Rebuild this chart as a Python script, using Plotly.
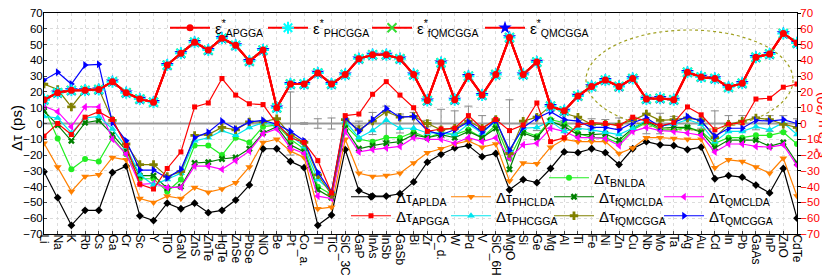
import plotly.graph_objects as go

categories = ["Li","Na","K","Rb","Cs","Ga","Cr","Sc","Y","TiO","GaN","ZnS","ZnTe","HgTe","ZnSe","PbSe","NiO","Be","Pt","Co_a.",
              "Tl","TiC","SiC_3C","GaP","InAs","InSb","GaSb","Bi","Zr","C_d.","W","Pd","V","SiC_6H","MgO","Si","Ge","Mg","Al","Ti",
              "Fe","Ni","Zn","Cu","Nb","Mo","Ta","Ag","Au","Cd","In","Pb","GaAs","InP","ZnO","CdTe"]

# epsilon* (a.u./30), right axis
eps_APGGA = [15,19.5,21,21,21.5,26.5,19.5,15.5,13.5,37,44.5,51.5,46.5,54,49.5,39.5,46.5,10,25,25,
             32,25,31,41,43.5,43.5,41,31,14.5,38.5,15,30,18,31,54.5,31,39,11,8,17.5,
             23.5,27.5,23.5,28.5,15.5,16,15,32.5,29.5,28.5,23,25.5,42,44,57,51]
eps_PHCGGA = [15,19.5,21,21,21.5,26.5,19.5,15.5,13.5,37,44.5,51.5,46.5,54,49.5,39.5,46.5,10,25,25,
              32,25,31,41,43.5,43.5,41,31,14.5,38.5,15,30,18,31,54.5,31,39,11,8,17.5,
              23.5,27.5,23.5,28.5,15.5,16,15,32.5,29.5,28.5,23,25.5,42,44,57,51]
eps_fQMCGGA = [15,19.5,21,21,21.5,26.5,19.5,15.5,13.5,37,44.5,51.5,46.5,54,49.5,39.5,46.5,10,25,25,
               32,25,31,41,43.5,43.5,41,31,14.5,38.5,15,30,18,31,54.5,31,39,11,8,17.5,
               23.5,27.5,23.5,28.5,15.5,16,15,32.5,29.5,28.5,23,25.5,42,44,57,51]
eps_QMCGGA = [15,19.5,21,21,21.5,26.5,19.5,15.5,13.5,37,44.5,51.5,46.5,54,49.5,39.5,46.5,10,25,25,
              32,25,31,41,43.5,43.5,41,31,14.5,38.5,15,30,18,31,54.5,31,39,11,8,17.5,
              23.5,27.5,23.5,28.5,15.5,16,15,32.5,29.5,28.5,23,25.5,42,44,57,51]

# delta tau (ps), left axis
dt_APLDA = [-30.5,-47,-64.5,-55,-55,-31,-27,-58.5,-61.5,-50.5,-54,-50.5,-56.5,-55,-48.5,-39,-16,-16,-24,-28,
            -64.5,-58,-16.5,-42.5,-46,-46,-44.5,-37,-24.5,-19.5,-15.5,-14,-21,-19,-42,-35.5,-37.5,-28.5,-18,-18.5,
            -16,-18.5,-26,-16,-11.5,-13.5,-14,-16.5,-15,-35,-33,-34,-39,-44,-28.5,-60]
dt_PHCLDA = [-12.5,-27.5,-43,-33.5,-32.5,-21.5,-23,-47.5,-50,-46,-47.5,-40.5,-43.5,-41.5,-37.5,-27.5,-12,-10,-17.5,-21.5,
             -54,-53,-10,-31.5,-33.5,-33,-31.5,-25,-18.5,-16,-13,-11,-15,-13,-36.5,-25,-25.5,-15,-10,-11.5,
             -11.5,-11.5,-19,-15.5,-9,-9,-9.5,-10,-10,-28,-23,-24,-27.5,-31.5,-22,-46]
dt_BNLDA = [10,-9.5,-29,-22.5,-24,-9,-19.5,-35,-35,-43,-35.5,-14,-14,-20,-9,-12,-2,-1,-10,-16,
            -40,-45,-1,-10,-11.5,-9,-9,-5.5,-9,-6,-7,-4,-9,-1,-22,-5,-8,2.5,0.5,-6,
            -9,-9,-12.5,-4,0.5,-4,-4,-2.5,-5,-12.5,-9,-9,-7.5,-7.5,-5.5,-13]
dt_fQMCLDA = [8,-1,-11,0.5,2,-7,-17,-33,-33,-41,-40,-25,-24.5,-22.5,-21.5,-16,-6,-2,-13.5,-18,
              -42,-47,-3,-16,-14,-12.5,-11.5,-7,-9,-7,-9,-5,-9,-3,-29,-6,-9,1.5,-2,-7,
              -7,-6.5,-10.5,-3,1.5,-3,-2.5,-2.5,-5.5,-15.5,-10.5,-10.5,-10.5,-14.5,-12,-25]
dt_QMCLDA = [11,7.5,-2,10.5,10.5,-10,-19.5,-38.5,-38,-40.5,-40.5,-27,-27,-29,-23.5,-17.5,-6.5,-3.5,-15.5,-19,
             -46,-47.5,-5,-18,-16.5,-15.5,-14.5,-9,-10,-10,-12.5,-9,-11.5,-9,-22,-13.5,-12.5,-3,-5,-9,
             -9,-9.5,-14,-5,-2.5,-4.5,-5,-6,-7.5,-18,-13,-13,-14.5,-15,-13.5,-26.5]
dt_APGGA = [-8,0,-7,4,7.5,2.5,-14,-38.5,-41.5,-28.5,-18,10.5,13,28.5,18,12.5,12,0,-9,-12,
            -23.5,-44,5,6,18.5,26.5,18,10,-5,-3.5,-3,5,-3,2.5,-4.5,-1,13,-11.5,-9,-1,
            0.5,0,-1.5,4,1.5,-1.5,0.5,10.5,5.5,-4,-0.5,0.5,15.5,16,23,25]
dt_PHCGGA = [4.5,3.5,-6,3.5,4.5,-3.5,-15,-32.5,-39,-35.5,-31.5,-11,-9,-4.5,-7.5,-2.5,0.5,-1,-8,-14.5,
             -35.5,-43,1.5,-9,-4.5,2,-3,-3,-6,-6,-7,-0.5,-6,1.5,-17,-3,-2.5,1.5,-5,-3,
             -4,-5.5,-7,-3,2,-1.5,-0.5,2.5,-0.5,-11.5,-5,-5,-2,-4,0.5,-7]
dt_fQMCGGA = [25,21.5,10.5,21.5,22,2,-13,-26,-26,-33.5,-30.5,-7.5,-7,-2.5,-4,1,1,3,-7,-12,
              -32.5,-45,2.5,-4,1.5,7.5,4,4.5,0,-4,-3,1.5,-3,2.5,-19,1.5,4,11,6.5,4,
              -0.5,-0.5,-0.5,2,6,2,2.5,3.5,2,-9,-0.5,1.5,3.5,2.5,-0.5,-2.5]
dt_QMCGGA = [27.5,32.5,25,37,37.5,0.5,-11,-29.5,-29.5,-34.5,-29,-9,-5.5,1.5,-3.5,1,2,-0.5,-5,-11,
             -31,-43.5,3.5,-5,2.5,9.5,4,4.5,-4.5,-7,-4,1,-5.5,2,-17,-2.5,3.5,7.5,2.5,1.5,
             -2.5,-2.5,-4,0.5,3.5,-2,0.5,4.5,1.5,-8,-3,-3,2,1.5,2.5,0]

# experimental reference (zero deviation) and its error bars (ps)
ref_zero = [0]*len(categories)
ref_err = [0,0,0,0,0,0,0,0,0,0,0,0,0,0,0,0,0,0,20,0.5,
           3,3.5,0,1.5,7,11,6,7,2,9,8,11,5,2,15,1,4.5,3,2,2,
           3,2.5,3.5,4,6.5,6.5,4.5,3,3,8,5,5,4,5,5,3]

FONT = "Liberation Sans, Arial, sans-serif"
fig = go.Figure()

fig.add_trace(go.Scatter(x=categories, y=ref_zero, mode="lines", showlegend=False,
                         line=dict(color="#9a9a9a", width=2),
                         error_y=dict(type="data", array=ref_err, visible=True, color="#8a8a8a", thickness=1, width=4)))

dt_specs = [
    ("APLDA", dt_APLDA, "#000000", "diamond", 6, "legend3", 1),
    ("PHCLDA", dt_PHCLDA, "#ff8000", "triangle-down", 7, "legend3", 2),
    ("BNLDA", dt_BNLDA, "#22ee22", "circle", 6, "legend2", 1),
    ("fQMCLDA", dt_fQMCLDA, "#008000", "x", 6, "legend3", 3),
    ("QMCLDA", dt_QMCLDA, "#ff00ff", "triangle-left", 7, "legend3", 4),
    ("PHCGGA", dt_PHCGGA, "#00e5ee", "triangle-up", 7, "legend4", 2),
    ("fQMCGGA", dt_fQMCGGA, "#808000", "cross", 7, "legend4", 3),
    ("QMCGGA", dt_QMCGGA, "#0000ff", "triangle-right", 7, "legend4", 4),
    ("APGGA", dt_APGGA, "#ff0000", "square", 5, "legend4", 1),
]
widths = {("legend3", 1): 45, ("legend3", 2): 48, ("legend3", 3): 55,
          ("legend4", 1): 45, ("legend4", 2): 48, ("legend4", 3): 55}
for name, vals, col, sym, sz, lg, rank in dt_specs:
    kw = {}
    if (lg, rank) in widths:
        kw["legendwidth"] = widths[(lg, rank)]
    fig.add_trace(go.Scatter(x=categories, y=vals, mode="lines+markers",
                             name="Δτ<sub>" + name + "</sub>", legend=lg, legendrank=rank,
                             line=dict(color=col, width=1.2),
                             marker=dict(symbol=sym, size=sz, color=col, line=dict(width=0)), **kw))

eps_specs = [
    ("QMCGGA", eps_QMCGGA, dict(symbol="star", size=10, color="#0000ff", line=dict(width=0)), 4, None),
    ("fQMCGGA", eps_fQMCGGA, dict(symbol="x-thin-open", size=9, color="#33dd33", line=dict(width=2, color="#33dd33")), 3, 58),
    ("PHCGGA", eps_PHCGGA, dict(symbol="asterisk-open", size=10, color="#00ffff", line=dict(width=2, color="#00ffff")), 2, 49),
    ("APGGA", eps_APGGA, dict(symbol="circle", size=7, color="#ff0000", line=dict(width=0)), 1, 43),
]
for name, vals, mk, rank, lw in eps_specs:
    kw = {}
    if lw:
        kw["legendwidth"] = lw
    fig.add_trace(go.Scatter(x=categories, y=vals, yaxis="y2", mode="lines+markers",
                             name="ε<sup>*</sup><sub>" + name + "</sub>", legend="legend", legendrank=rank,
                             line=dict(color="#ff0000", width=2), marker=mk, **kw))

W, H = 830, 275
L, R, T, B = 36, 41, 5, 49
pw, ph = W - L - R, H - T - B

def px(xp):
    return (xp - L) / pw

def py(yp):
    return (H - B - yp) / ph

leg_common = dict(orientation="h", xanchor="left", yanchor="middle", bgcolor="rgba(0,0,0,0)",
                  borderwidth=0, itemwidth=40, font=dict(family=FONT, size=15, color="#000000"),
                  traceorder="normal", itemclick=False)

fig.update_layout(
    width=W, height=H, margin=dict(l=L, r=R, t=T, b=B, autoexpand=False),
    paper_bgcolor="white", plot_bgcolor="white",
    font=dict(family=FONT, size=12, color="#000000"),
    showlegend=True,
    legend=dict(x=px(157), y=py(20), **leg_common),
    legend2=dict(x=px(536), y=py(170), **leg_common),
    legend3=dict(x=px(338), y=py(189), **leg_common),
    legend4=dict(x=px(338), y=py(208), **leg_common),
    xaxis=dict(type="category", range=[0, len(categories) - 1], tickmode="array", tickvals=categories,
               tickangle=90, tickfont=dict(size=12, color="#000000"), ticks="inside", ticklen=3,
               ticklabelstandoff=-3, ticklabeloverflow="allow",
               showgrid=True, gridcolor="#dcdcdc", griddash="dot", gridwidth=1,
               showline=True, linecolor="#000000", linewidth=1, mirror=True, zeroline=False),
    yaxis=dict(range=[-70, 70], dtick=10, tick0=0, tickfont=dict(size=11.5, color="#000000"),
               ticks="inside", ticklen=3, ticklabelstandoff=-2, ticklabeloverflow="allow",
               showgrid=True, gridcolor="#dcdcdc", griddash="dot",
               showline=True, linecolor="#000000", linewidth=1, mirror=True, zeroline=False),
    yaxis2=dict(range=[-70, 70], dtick=10, tick0=0, overlaying="y", side="right",
                tickfont=dict(size=11.5, color="#ff0000"), ticks="outside", ticklen=3, tickcolor="#000000",
                ticklabelstandoff=-3, ticklabeloverflow="allow",
                showgrid=False, showline=True, linecolor="#000000", linewidth=1, zeroline=False),
    annotations=[
        dict(text="Δτ (ps)", xref="paper", yref="paper", x=px(9), y=py(120), textangle=-90,
             showarrow=False, xanchor="center", yanchor="middle", font=dict(family=FONT, size=15, color="#000000")),
        dict(text="ε<sup>*</sup> (a.u./30)", xref="paper", yref="paper", x=px(813), y=py(117), textangle=-90,
             showarrow=False, xanchor="center", yanchor="middle", borderpad=0,
             font=dict(family=FONT, size=14, color="#ff0000")),
    ],
    shapes=[dict(type="circle", xref="paper", yref="paper", x0=px(578), x1=px(785), y0=py(122), y1=py(22),
                 line=dict(color="#a0a020", width=1.2, dash="dot"))],
)

fig.write_html("out.html")
